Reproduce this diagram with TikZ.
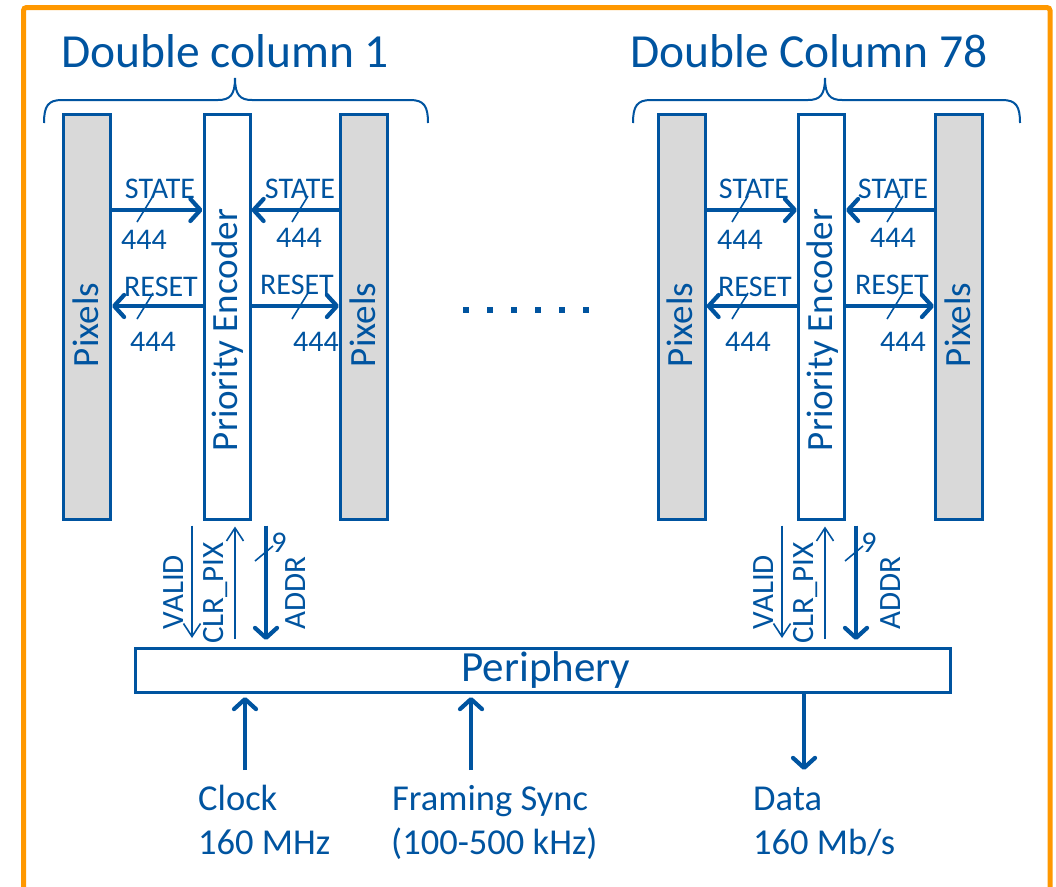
\documentclass[tikz,border=0pt]{standalone}
\usepackage{fontspec}
\setmainfont{Carlito}
\usetikzlibrary{arrows.meta,calc}
\definecolor{dblue}{RGB}{0,84,160}
\definecolor{pgray}{RGB}{217,217,217}
\definecolor{frameorange}{RGB}{255,152,0}
\newcommand\fsz[1]{\fontsize{#1}{#1}\selectfont}
\begin{document}
\begin{tikzpicture}[x=1pt,y=-1pt,
  pixbox/.style={draw=dblue,fill=pgray,line width=3pt,minimum width=47pt,minimum height=405pt,inner sep=0pt},
  pebox/.style={draw=dblue,fill=white,line width=3pt,minimum width=46pt,minimum height=405pt,inner sep=0pt},
  vtxt/.style={text=dblue,font=\fsz{37},inner sep=0pt,rotate=90,anchor=base},
  lbl/.style={text=dblue,font=\fsz{30},inner sep=0pt},
  vlbl/.style={text=dblue,font=\fsz{31},inner sep=0pt,rotate=90,anchor=base},
  btxt/.style={text=dblue,font=\fsz{36.5},inner sep=0pt,anchor=base west},
  title/.style={text=dblue,font=\fsz{47.5},inner sep=0pt,anchor=base west},
  bigarrow/.style={draw=dblue,line width=4.2pt,-{Straight Barb[length=10pt,width=22pt,round]}},
  thinarrow/.style={draw=dblue,line width=1.6pt,-{Straight Barb[length=13pt,width=17pt]}},
  slash/.style={draw=dblue,line width=1.6pt},
  bracepath/.style={draw=dblue,line width=2pt},
  dotsq/.style={fill=dblue,minimum size=6pt,inner sep=0pt}
]
\clip (0,0) rectangle (1056,886);
\fill[white] (0,0) rectangle (1056,886);
% orange frame
\draw[frameorange,line width=5pt,rounded corners=3pt] (23.5,940) -- (23.5,7.5) -- (1050,7.5) -- (1050,940);

% titles
\node[title] (t1) at (61,67) {Double column 1};
\node[title] (t2) at (630,67) {Double Column 78};

% braces
\draw[bracepath] (44,123) .. controls (44,106) and (48,100) .. (62,100) -- (218,100)
  .. controls (230,100) and (235,95) .. (235,78) .. controls (235,95) and (240,100) .. (252,100)
  -- (410,100) .. controls (424,100) and (428,106) .. (428,123);
\draw[bracepath] (633,123) .. controls (633,106) and (637,100) .. (651,100) -- (808,100)
  .. controls (820,100) and (825,95) .. (825,78) .. controls (825,95) and (830,100) .. (842,100)
  -- (1002,100) .. controls (1016,100) and (1020,106) .. (1020,123);

% columns
\node[pixbox] (pl1) at (87,316.5) {};
\node[pebox]  (pe1) at (227,316.5) {};
\node[pixbox] (pr1) at (364,316.5) {};
\node[pixbox] (pl2) at (681.5,316.5) {};
\node[pebox]  (pe2) at (821.5,316.5) {};
\node[pixbox] (pr2) at (959,316.5) {};

\node[vtxt] (tpl1) at (98,325) {Pixels};
\node[vtxt] (tpe1) at (237,330) {Priority Encoder};
\node[vtxt] (tpr1) at (375,325) {Pixels};
\node[vtxt] (tpl2) at (692,325) {Pixels};
\node[vtxt] (tpe2) at (832,330) {Priority Encoder};
\node[vtxt] (tpr2) at (970,325) {Pixels};

% STATE / RESET arrows DC1
\draw[bigarrow] (pl1.east |- 0,210) -- (pe1.west |- 0,210);
\draw[bigarrow] (pr1.west |- 0,210) -- (pe1.east |- 0,210);
\draw[bigarrow] (pe1.west |- 0,306) -- (pl1.east |- 0,306);
\draw[bigarrow] (pe1.east |- 0,306) -- (pr1.west |- 0,306);
% DC78
\draw[bigarrow] (pl2.east |- 0,210) -- (pe2.west |- 0,210);
\draw[bigarrow] (pr2.west |- 0,210) -- (pe2.east |- 0,210);
\draw[bigarrow] (pe2.west |- 0,306) -- (pl2.east |- 0,306);
\draw[bigarrow] (pe2.east |- 0,306) -- (pr2.west |- 0,306);

% slashes
\foreach \cx/\cy in {145/209,300/209,145/306,300/306,740/209,895/209,740/306,895/306}
  \draw[slash] (\cx-8,\cy+13) -- (\cx+8,\cy-13);

% labels DC1
\node[lbl] (s1a) at (160,189) {STATE};
\node[lbl] (n1a) at (144,240) {444};
\node[lbl] (r1a) at (161,287) {RESET};
\node[lbl] (m1a) at (153,342) {444};
\node[lbl] (s1b) at (300,189) {STATE};
\node[lbl] (n1b) at (299,238) {444};
\node[lbl] (r1b) at (297,285) {RESET};
\node[lbl] (m1b) at (316,342) {444};
% labels DC78
\node[lbl] (s2a) at (754,189) {STATE};
\node[lbl] (n2a) at (740,240) {444};
\node[lbl] (r2a) at (755,287) {RESET};
\node[lbl] (m2a) at (748,342) {444};
\node[lbl] (s2b) at (893,189) {STATE};
\node[lbl] (n2b) at (893,238) {444};
\node[lbl] (r2b) at (892,285) {RESET};
\node[lbl] (m2b) at (903,342) {444};

% ellipsis
\foreach \k in {0,...,5}
  \node[dotsq] (dot\k) at (466+24*\k,310) {};

% periphery
\node[draw=dblue,line width=3pt,minimum width=815pt,minimum height=44pt,inner sep=0pt,
      text=dblue,font=\fsz{43}] (per) at (543,670.5) {\hspace*{6pt}Periphery};

% bottom connectors DC1
\draw[thinarrow,shorten <=5pt,shorten >=9pt] (pe1.south -| 192,0) -- (per.north -| 192,0);
\draw[thinarrow,shorten <=8pt,shorten >=6pt] (per.north -| 235,0) -- (pe1.south -| 235,0);
\draw[bigarrow,shorten <=5pt,shorten >=7pt] (pe1.south -| 266,0) -- (per.north -| 266,0);
\draw[slash] (255,561) -- (273,546);
\node[lbl] (nine1) at (279,543) {9};
\node[vlbl] (v1) at (183,592) {VALID};
\node[vlbl] (c1) at (223,593) {CLR\_PIX};
\node[vlbl] (a1) at (305,593) {ADDR};
% bottom connectors DC78
\draw[thinarrow,shorten <=5pt,shorten >=9pt] (pe2.south -| 782,0) -- (per.north -| 782,0);
\draw[thinarrow,shorten <=8pt,shorten >=6pt] (per.north -| 825,0) -- (pe2.south -| 825,0);
\draw[bigarrow,shorten <=5pt,shorten >=7pt] (pe2.south -| 856,0) -- (per.north -| 856,0);
\draw[slash] (845,561) -- (863,546);
\node[lbl] (nine2) at (869,543) {9};
\node[vlbl] (v2) at (773,592) {VALID};
\node[vlbl] (c2) at (813,593) {CLR\_PIX};
\node[vlbl] (a2) at (900,593) {ADDR};

% inputs / outputs
\coordinate (clk) at (245,770);
\coordinate (fsy) at (471,770);
\coordinate (dat) at (804,770);
\draw[bigarrow,shorten >=3pt] (clk) -- (per.south -| clk);
\draw[bigarrow,shorten >=3pt] (fsy) -- (per.south -| fsy);
\draw[bigarrow] (per.south -| dat) -- (dat);

\node[btxt] (clk1) at (198,810) {Clock};
\node[btxt] (clk2) at (198,854) {160 MHz};
\node[btxt] (fs1) at (392,810) {Framing Sync};
\node[btxt] (fs2) at (391,854) {(100-500 kHz)};
\node[btxt] (d1) at (753,810) {Data};
\node[btxt] (d2) at (753,854) {160 Mb/s};
\end{tikzpicture}
\end{document}
